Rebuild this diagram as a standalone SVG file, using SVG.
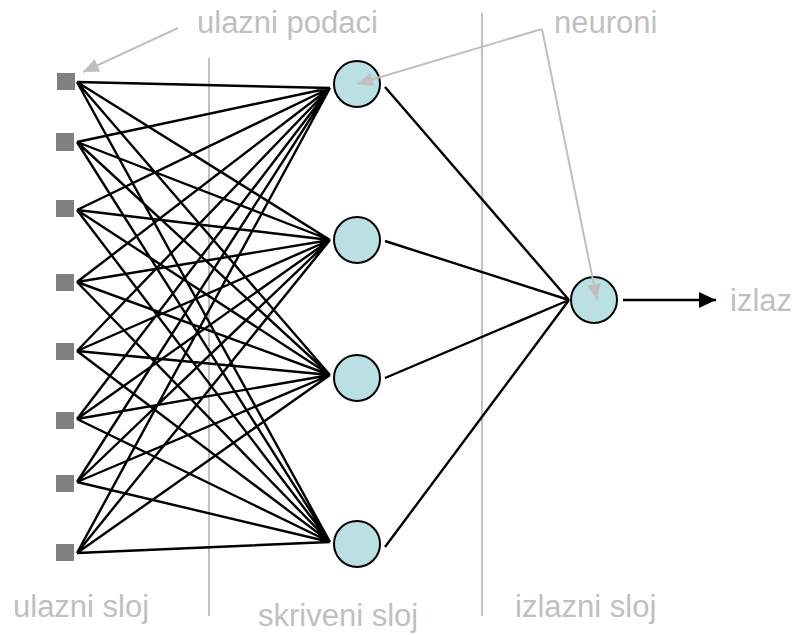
<svg xmlns="http://www.w3.org/2000/svg" width="795" height="635" viewBox="0 0 795 635">
<style>
.lbl{font-family:"Liberation Sans",Arial,sans-serif;font-size:31px;fill:#c0c0c0}
.in{fill:#808080}
.neu{fill:#bbe0e3;stroke:#000;stroke-width:2}
.e{stroke:#000;stroke-width:2.4;fill:none}
.g{stroke:#c0c0c0;stroke-width:2;fill:none}
</style>
<defs>
<marker id="ga" markerUnits="userSpaceOnUse" markerWidth="18" markerHeight="14" refX="16" refY="7" orient="auto">
<path d="M0,0 L16,7 L0,14 Z" fill="#c0c0c0"/>
</marker>
<marker id="ba" markerUnits="userSpaceOnUse" markerWidth="18" markerHeight="16" refX="17" refY="8" orient="auto">
<path d="M0,0 L17,8 L0,16 Z" fill="#000"/>
</marker>
</defs>
<rect width="795" height="635" fill="#fff"/>
<g id="dividers">
<line class="g" x1="209" y1="58" x2="209" y2="616"/>
<line class="g" x1="482" y1="13" x2="482" y2="616"/>
</g>
<g id="connectors">
<path id="in-hidden" class="e" d="M77,82 L330,88 M77,82 L330,240 M77,82 L330,375 M77,82 L330,542
M77,142 L330,88 M77,142 L330,240 M77,142 L330,375 M77,142 L330,542
M77,210 L330,88 M77,210 L330,240 M77,210 L330,375 M77,210 L330,542
M77,282 L330,88 M77,282 L330,240 M77,282 L330,375 M77,282 L330,542
M77,351 L330,88 M77,351 L330,240 M77,351 L330,375 M77,351 L330,542
M77,419 L330,88 M77,419 L330,240 M77,419 L330,375 M77,419 L330,542
M77,482 L330,88 M77,482 L330,240 M77,482 L330,375 M77,482 L330,542
M77,553 L330,88 M77,553 L330,240 M77,553 L330,375 M77,553 L330,542"/>
<path id="hidden-out" class="e" d="M385,87 L569,300 M385,241 L569,300 M385,378 L569,300 M385,547 L569,300"/>
<line id="out-arrow" class="e" x1="623" y1="300" x2="716" y2="300" marker-end="url(#ba)"/>
</g>
<g id="inputs">
<rect id="x1" class="in" x="57" y="73" width="18" height="17"/>
<rect id="x2" class="in" x="56" y="133" width="18" height="18"/>
<rect id="x3" class="in" x="56" y="200" width="18" height="17"/>
<rect id="x4" class="in" x="56" y="274" width="18" height="17"/>
<rect id="x5" class="in" x="56" y="343" width="18" height="17"/>
<rect id="x6" class="in" x="56" y="412" width="18" height="17"/>
<rect id="x7" class="in" x="56" y="475" width="18" height="17"/>
<rect id="x8" class="in" x="56" y="544" width="18" height="17"/>
</g>
<g id="h1"><circle class="neu" cx="357" cy="84" r="23"/></g>
<g id="h2"><circle class="neu" cx="357" cy="240" r="23"/></g>
<g id="h3"><circle class="neu" cx="357" cy="378" r="23"/></g>
<g id="h4"><circle class="neu" cx="357" cy="544" r="23"/></g>
<g id="out"><circle class="neu" cx="594" cy="300" r="23"/></g>
<g id="annotations">
<line class="g" x1="178" y1="28" x2="83" y2="72" marker-end="url(#ga)"/>
<line class="g" x1="542" y1="29" x2="357" y2="84" marker-end="url(#ga)"/>
<line class="g" x1="542" y1="29" x2="597" y2="300" marker-end="url(#ga)"/>
</g>
<g id="labels">
<text class="lbl" x="197" y="33">ulazni podaci</text>
<text class="lbl" x="554" y="33">neuroni</text>
<text class="lbl" x="730" y="311">izlaz</text>
<text class="lbl" x="13" y="617">ulazni sloj</text>
<text class="lbl" x="258" y="626">skriveni sloj</text>
<text class="lbl" x="515" y="617">izlazni sloj</text>
</g>
</svg>
